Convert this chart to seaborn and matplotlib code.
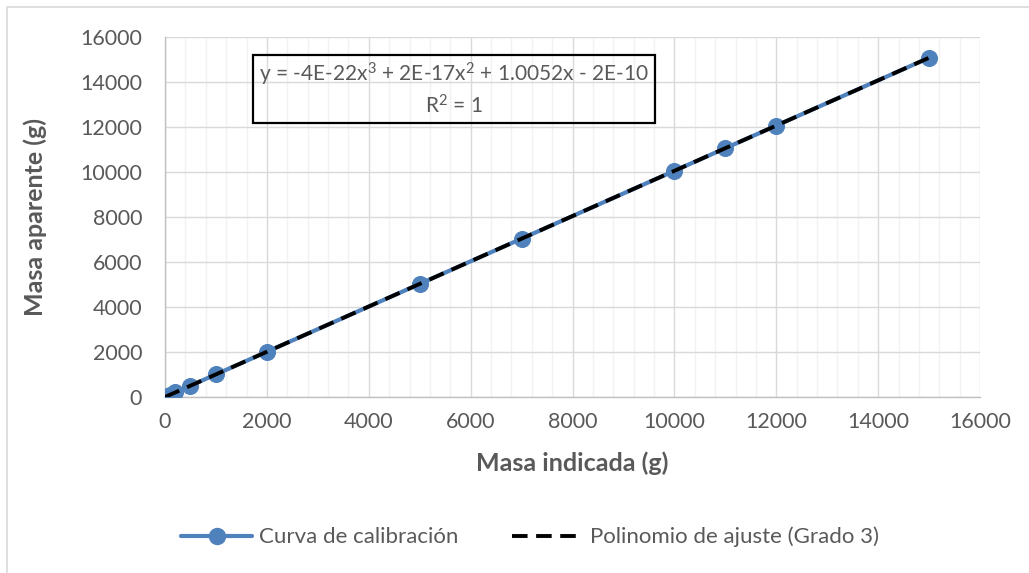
import numpy as np
import pandas as pd
import matplotlib
matplotlib.use("Agg")
import matplotlib.pyplot as plt
import seaborn as sns
from matplotlib.ticker import MultipleLocator
from matplotlib.lines import Line2D
from matplotlib.patches import Rectangle

# Data
masa_indicada = [0, 1, 2, 5, 10, 20, 50, 100, 200, 500, 1000, 2000, 5000, 7000, 10000, 11000, 12000, 15000]
masa_aparente = [0, 1, 2, 5, 10, 20, 50, 100, 201, 503, 1005, 2010, 5026, 7036, 10052, 11057, 12062, 15078]
coef = [-4e-22, 2e-17, 1.0052, -2e-10]  # cubic trendline coefficients
eq_text = "y = -4E-22x$^3$ + 2E-17x$^2$ + 1.0052x - 2E-10\nR$^2$ = 1"
serie1 = "Curva de calibración"
serie2 = "Polinomio de ajuste (Grado 3)"
xlabel = "Masa indicada (g)"
ylabel = "Masa aparente (g)"

sns.set_theme(style="white")
plt.rcParams['font.family'] = ['Lato', 'DejaVu Sans']
plt.rcParams['mathtext.fontset'] = 'custom'
plt.rcParams['mathtext.rm'] = 'Lato'
plt.rcParams['mathtext.it'] = 'Lato'
plt.rcParams['mathtext.default'] = 'regular'

W, H = 1029, 573
fig = plt.figure(figsize=(W/100, H/100), dpi=100)
fig.patch.set_facecolor("white")
ax = fig.add_axes([165/W, 1-397/H, (980-165)/W, (397-37)/H])

blue = "#4F81BD"
gray_txt = "#595959"

df = pd.DataFrame({"x": masa_indicada, "y": masa_aparente})
sns.lineplot(data=df, x="x", y="y", ax=ax, color=blue, linewidth=3.0,
             marker="o", markersize=11.5, markeredgecolor=blue, markerfacecolor=blue,
             zorder=3, sort=False)

xt = np.linspace(min(masa_indicada), max(masa_indicada), 200)
yt = np.polyval(coef, xt)
dft = pd.DataFrame({"x": xt, "y": yt})
sns.lineplot(data=dft, x="x", y="y", ax=ax, color="black", linewidth=2.8, zorder=4)
ax.lines[-1].set_dashes([4.0, 2.2])

ax.set_xlim(0, 16000)
ax.set_ylim(0, 16000)
ax.xaxis.set_major_locator(MultipleLocator(2000))
ax.xaxis.set_minor_locator(MultipleLocator(400))
ax.yaxis.set_major_locator(MultipleLocator(2000))
ax.yaxis.set_minor_locator(MultipleLocator(400))

ax.grid(which="major", axis="both", color="#D9D9D9", linewidth=1.0, zorder=0)
ax.grid(which="minor", axis="x", color="#F2F2F2", linewidth=1.0, zorder=0)
ax.set_axisbelow(True)

for s in ["top", "right"]:
    ax.spines[s].set_visible(False)
for s in ["left", "bottom"]:
    ax.spines[s].set_color("#BFBFBF")
    ax.spines[s].set_linewidth(1.0)

ax.tick_params(axis="both", which="both", direction="inout", color="#BFBFBF",
               width=1.0, labelcolor=gray_txt, labelsize=15.5)
ax.tick_params(axis="both", which="major", length=7)
ax.tick_params(axis="both", which="minor", length=7)
ax.tick_params(axis="x", which="major", pad=7)
ax.tick_params(axis="y", which="major", pad=13)

ax.set_xlabel(xlabel, fontsize=18, fontweight="bold", color=gray_txt, labelpad=14)
ax.set_ylabel(ylabel, fontsize=18, fontweight="bold", color=gray_txt, labelpad=24)

# Equation box
fig.text((253+655)/2/W, 1-89/H, eq_text, ha="center", va="center", fontsize=15,
         color=gray_txt, linespacing=1.3)
fig.patches.append(Rectangle((253/W, 1-123/H), (655-253)/W, (123-55)/H,
                             transform=fig.transFigure, fill=False, edgecolor="black",
                             linewidth=1.6, zorder=5))

# Outer chart border
fig.patches.append(Rectangle((7/W, -0.05), 1.1, 1-7/H+0.05, transform=fig.transFigure,
                             fill=False, edgecolor="#D9D9D9", linewidth=1.2))

handles = [Line2D([], [], color=blue, linewidth=3.0, marker="o", markersize=11.5),
           Line2D([], [], color="black", linewidth=2.8, dashes=[4.0, 2.2])]
fig.legend(handles, [serie1, serie2], loc="center", bbox_to_anchor=(530/W, 1-537/H),
           ncol=2, frameon=False, fontsize=16, labelcolor=gray_txt,
           handlelength=3.2, columnspacing=2.4, handletextpad=0.3)

fig.savefig("out.png", dpi=100)
